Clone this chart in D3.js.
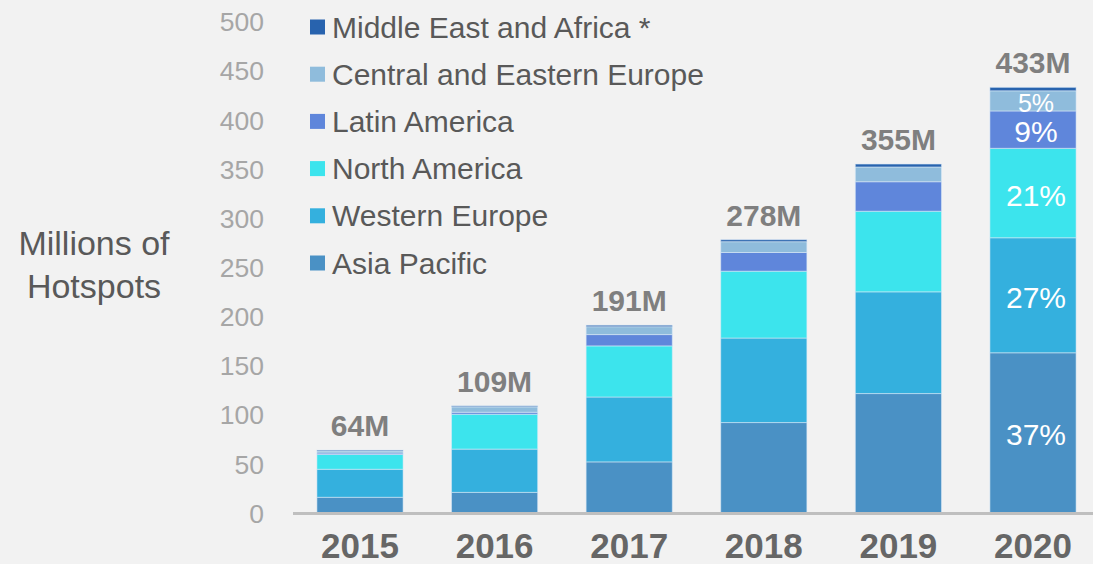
<!DOCTYPE html>
<html>
<head>
<meta charset="utf-8">
<script src="https://cdn.jsdelivr.net/npm/d3@7"></script>
<style>
  html, body { margin: 0; padding: 0; background: #f2f2f2; }
  svg { display: block; }
  text { font-family: "Liberation Sans", Arial, sans-serif; }
</style>
</head>
<body>
<svg id="chart" width="1093" height="564"></svg>
<script>
// ---- data ----
const years = ["2015", "2016", "2017", "2018", "2019", "2020"];
const seriesNames = ["Asia Pacific", "Western Europe", "North America", "Latin America", "Central and Eastern Europe", "Middle East and Africa *"];
const asiaPacific          = [16,   21,   52,   92,  121.5, 163];
const westernEurope        = [28.5, 44,   66,   86,  103.5, 117];
const northAmerica         = [15,   35.5, 52,   68,  82,    91];
const latinAmerica         = [1.5,  2,    11.5, 19,  30,    38];
const centralEasternEurope = [2,    5.5,  8,    11,  15,    20.5];
const middleEastAfrica     = [1,    1,    1.5,  2,   3,     3.5];
const totalLabels = ["64M", "109M", "191M", "278M", "355M", "433M"];
const yTicks = [0, 50, 100, 150, 200, 250, 300, 350, 400, 450, 500];
const percentYear = "2020";
const percentLabels = ["37%", "27%", "21%", "9%", "5%", ""];
const colors = ["#4a91c5", "#34b0de", "#3ce4ed", "#5f86db", "#8fbcdc", "#2863ae"];

// ---- build table ----
const seriesValues = [asiaPacific, westernEurope, northAmerica, latinAmerica, centralEasternEurope, middleEastAfrica];
const table = years.map((y, i) => {
  const row = { year: y };
  seriesNames.forEach((s, k) => row[s] = seriesValues[k][i]);
  return row;
});
const stacked = d3.stack().keys(seriesNames)(table);

const svg = d3.select("#chart");
svg.append("rect").attr("width", 1093).attr("height", 564).attr("fill", "#f2f2f2");

const x = d3.scaleBand().domain(years).range([292.7, 1100.3]).paddingInner(0.36).paddingOuter(0.18);
const y = d3.scaleLinear().domain([0, 500]).range([513, 21.5]);

// y tick labels
const yAxis = d3.axisLeft(y).tickValues(yTicks).tickSize(0).tickPadding(0);
const gy = svg.append("g").attr("transform", "translate(264,0)").call(yAxis);
gy.select(".domain").remove();
gy.selectAll("text")
  .attr("fill", "#a6a6a6")
  .style("font-size", "26.5px")
  .attr("dy", "0.35em");

// bars
const layers = svg.append("g").selectAll("g").data(stacked).join("g")
  .attr("fill", (d, i) => colors[i]);
layers.selectAll("rect").data(d => d).join("rect")
  .attr("x", d => x(d.data.year))
  .attr("width", x.bandwidth())
  .attr("y", d => y(d[1]))
  .attr("height", d => y(d[0]) - y(d[1]))
  .attr("stroke", "rgba(220,235,248,0.55)")
  .attr("stroke-width", 1);

// axis line
const xAxis = d3.axisBottom(x).tickSize(0).tickPadding(0);
const gx = svg.append("g").attr("transform", "translate(0,513.5)").call(xAxis);
gx.select(".domain").remove();
svg.append("line").attr("x1", 293).attr("x2", 1093).attr("y1", 513.5).attr("y2", 513.5)
  .attr("stroke", "#bfbfbf").attr("stroke-width", 3);
gx.selectAll("text")
  .attr("y", 44.5).attr("dy", 0)
  .attr("fill", "#666666")
  .style("font-size", "35px")
  .style("font-weight", "bold");

// total labels
svg.append("g").selectAll("text").data(table).join("text")
  .attr("x", d => x(d.year) + x.bandwidth() / 2)
  .attr("y", (d, i) => y(stacked[stacked.length - 1][i][1]) - 14)
  .attr("text-anchor", "middle")
  .attr("fill", "#7f7f7f")
  .style("font-size", "30px")
  .style("font-weight", "bold")
  .text((d, i) => totalLabels[i]);

// percent labels for 2020
const pi = years.indexOf(percentYear);
svg.append("g").selectAll("text").data(stacked).join("text")
  .attr("x", x(percentYear) + x.bandwidth() / 2 + 3)
  .attr("y", d => (y(d[pi][0]) + y(d[pi][1])) / 2 + 2)
  .attr("dy", "0.35em")
  .attr("text-anchor", "middle")
  .attr("fill", "#ffffff")
  .style("font-size", (d, i) => i === 4 ? "25px" : "30px")
  .text((d, i) => percentLabels[i]);

// legend
const legendOrder = seriesNames.map((s, i) => i).reverse();
const lg = svg.append("g").selectAll("g").data(legendOrder).join("g")
  .attr("transform", (d, j) => `translate(310,${27 + j * 47.2})`);
lg.append("rect").attr("x", 0).attr("y", -7.5).attr("width", 15).attr("height", 15)
  .attr("fill", d => colors[d]);
lg.append("text").attr("x", 22).attr("y", 0).attr("dy", "0.35em")
  .attr("fill", "#595959").style("font-size", "30px")
  .text(d => seriesNames[d]);

// y title
const title = svg.append("text").attr("text-anchor", "middle").attr("fill", "#595959")
  .style("font-size", "34px");
title.append("tspan").attr("x", 94).attr("y", 255).text("Millions of");
title.append("tspan").attr("x", 94).attr("y", 297.5).text("Hotspots");
</script>
</body>
</html>
